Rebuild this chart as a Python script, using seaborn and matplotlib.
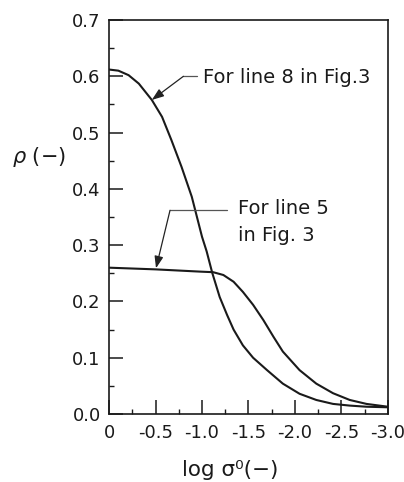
import numpy as np
import pandas as pd
import matplotlib
matplotlib.use("Agg")
import matplotlib.pyplot as plt
import seaborn as sns

# curve for line 8 in Fig.3
log_sigma_8 = [0, -0.10, -0.21, -0.32, -0.46, -0.57, -0.67, -0.78, -0.89, -1.00, -1.05,
               -1.11, -1.19, -1.27, -1.34, -1.44, -1.55, -1.70, -1.87, -2.05, -2.23,
               -2.41, -2.59, -2.77, -3.0]
rho_8 = [0.612, 0.610, 0.602, 0.587, 0.558, 0.528, 0.487, 0.439, 0.386, 0.315, 0.289,
         0.251, 0.208, 0.176, 0.150, 0.122, 0.100, 0.078, 0.054, 0.036, 0.025,
         0.018, 0.015, 0.013, 0.012]

# curve for line 5 in Fig.3
log_sigma_5 = [0, -0.5, -0.98, -1.12, -1.23, -1.34, -1.44, -1.55, -1.66, -1.77, -1.87,
               -2.05, -2.23, -2.41, -2.59, -2.77, -3.0]
rho_5 = [0.260, 0.257, 0.253, 0.252, 0.247, 0.235, 0.217, 0.194, 0.167, 0.137, 0.111,
         0.078, 0.054, 0.037, 0.025, 0.018, 0.013]

x_ticks = [0, -0.5, -1.0, -1.5, -2.0, -2.5, -3.0]
x_tick_labels = ["0", "-0.5", "-1.0", "-1.5", "-2.0", "-2.5", "-3.0"]
y_ticks = [0.0, 0.1, 0.2, 0.3, 0.4, 0.5, 0.6, 0.7]
y_tick_labels = ["0.0", "0.1", "0.2", "0.3", "0.4", "0.5", "0.6", "0.7"]

sns.set_theme(style="ticks")
plt.rcParams["font.family"] = ["DejaVu Sans"]

fig = plt.figure(figsize=(4.04, 4.82), dpi=100)
ax = fig.add_axes([0.270, 0.141, 0.690, 0.8175])

df8 = pd.DataFrame({"x": log_sigma_8, "rho": rho_8})
df5 = pd.DataFrame({"x": log_sigma_5, "rho": rho_5})
sns.lineplot(data=df8, x="x", y="rho", ax=ax, color="#1a1a1a", lw=1.5, estimator=None)
sns.lineplot(data=df5, x="x", y="rho", ax=ax, color="#1a1a1a", lw=1.5, estimator=None)

ax.set_xlim(0, -3.0)
ax.set_ylim(0, 0.7)
ax.set_xticks(x_ticks)
ax.set_xticklabels(x_tick_labels)
ax.set_yticks(y_ticks)
ax.set_yticklabels(y_tick_labels)
ax.set_xticks(np.arange(-0.25, -3.0, -0.5), minor=True)
ax.set_yticks(np.arange(0.05, 0.7, 0.1), minor=True)
ax.tick_params(which="major", direction="in", length=10, width=1.1,
               labelsize=13, pad=6, colors="#1a1a1a")
ax.tick_params(which="minor", direction="in", length=3.8, width=1.0, colors="#1a1a1a")
ax.tick_params(axis="x", pad=7)
for sp in ax.spines.values():
    sp.set_linewidth(1.2)
    sp.set_color("#1a1a1a")
ax.set_xlabel("")
ax.set_ylabel("")

fig.text(0.03, 0.674, r"$\rho$ (−)", fontsize=15, ha="left", va="center", color="#1a1a1a")
fig.text(0.569, 0.024, "log σ⁰(−)", fontsize=15.5, ha="center", va="center", color="#1a1a1a")

# annotation for line 8
lead = "#555555"
ax.plot([-0.95, -0.80], [0.600, 0.600], color=lead, lw=0.9)
ax.annotate("", xy=(-0.46, 0.558), xytext=(-0.80, 0.600),
            arrowprops=dict(arrowstyle="-|>,head_length=0.6,head_width=0.22",
                            color="#222222", lw=0.9, shrinkA=0, shrinkB=0))
ax.text(-1.01, 0.598, "For line 8 in Fig.3", fontsize=14, ha="left", va="center",
        color="#1a1a1a")

# annotation for line 5
ax.plot([-1.27, -0.656], [0.362, 0.362], color=lead, lw=0.9)
ax.annotate("", xy=(-0.505, 0.259), xytext=(-0.656, 0.362),
            arrowprops=dict(arrowstyle="-|>,head_length=0.6,head_width=0.22",
                            color="#222222", lw=0.9, shrinkA=0, shrinkB=0))
ax.text(-1.39, 0.366, "For line 5", fontsize=14, ha="left", va="center", color="#1a1a1a")
ax.text(-1.39, 0.318, "in Fig. 3", fontsize=14, ha="left", va="center", color="#1a1a1a")

fig.savefig("out.png", dpi=100)
